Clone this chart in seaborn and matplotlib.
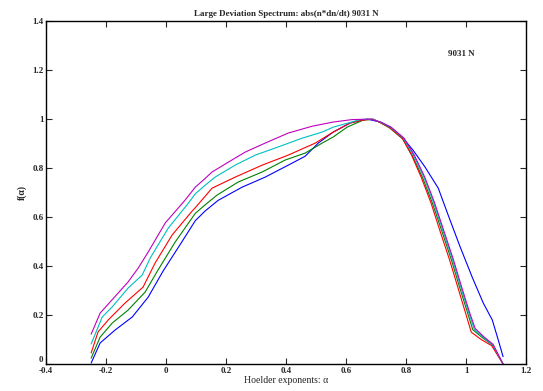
import numpy as np
import pandas as pd
import matplotlib
matplotlib.use("Agg")
import matplotlib.pyplot as plt
import seaborn as sns

# Hoelder exponent / spectrum values, one pair per curve
blue_a = [-0.25, -0.22, -0.17, -0.113, -0.06, -0.01, 0.053, 0.097, 0.13, 0.173, 0.253, 0.33, 0.407,
          0.463, 0.507, 0.557, 0.613, 0.67, 0.713, 0.747, 0.79, 0.823, 0.863, 0.907, 0.94, 0.98,
          1.02, 1.057, 1.087, 1.107, 1.123]
blue_f = [0.004, 0.086, 0.139, 0.192, 0.273, 0.38, 0.5, 0.585, 0.625, 0.668, 0.722, 0.763, 0.812,
          0.848, 0.902, 0.947, 0.984, 1.0, 0.988, 0.967, 0.922, 0.873, 0.804, 0.718, 0.608, 0.478,
          0.355, 0.249, 0.18, 0.098, 0.03]

green_a = [-0.25, -0.22, -0.18, -0.127, -0.07, -0.027, 0.03, 0.097, 0.13, 0.17, 0.24, 0.32, 0.397,
           0.463, 0.52, 0.557, 0.603, 0.657, 0.69, 0.713, 0.746, 0.789, 0.821, 0.855, 0.888, 0.921,
           0.951, 0.978, 1.005, 1.022, 1.056, 1.087, 1.123]
green_f = [0.024, 0.11, 0.167, 0.22, 0.294, 0.384, 0.498, 0.615, 0.65, 0.69, 0.743, 0.784, 0.833,
           0.861, 0.902, 0.927, 0.967, 0.996, 0.999, 0.986, 0.963, 0.918, 0.85, 0.76, 0.655, 0.535,
           0.424, 0.314, 0.208, 0.14, 0.106, 0.078, 0.0]

red_a = [-0.25, -0.227, -0.193, -0.137, -0.077, -0.037, 0.02, 0.087, 0.097, 0.153, 0.23, 0.32, 0.407,
         0.497, 0.557, 0.613, 0.657, 0.69, 0.71, 0.743, 0.787, 0.818, 0.85, 0.883, 0.915, 0.945,
         0.972, 0.998, 1.017, 1.05, 1.085, 1.123]
red_f = [0.045, 0.131, 0.18, 0.249, 0.314, 0.412, 0.527, 0.625, 0.638, 0.718, 0.763, 0.812, 0.853,
         0.902, 0.947, 0.984, 0.996, 1.0, 0.988, 0.967, 0.922, 0.853, 0.763, 0.657, 0.535, 0.424,
         0.314, 0.208, 0.13, 0.1, 0.075, 0.0]

cyan_a = [-0.25, -0.213, -0.18, -0.127, -0.08, -0.053, 0.007, 0.073, 0.097, 0.13, 0.163, 0.23, 0.297,
          0.373, 0.453, 0.52, 0.557, 0.647, 0.685, 0.714, 0.748, 0.791, 0.824, 0.859, 0.892, 0.925,
          0.955, 0.982, 1.009, 1.027, 1.058, 1.088, 1.123]
cyan_f = [0.082, 0.192, 0.233, 0.31, 0.363, 0.433, 0.555, 0.655, 0.695, 0.73, 0.763, 0.812, 0.853,
          0.886, 0.922, 0.947, 0.967, 0.998, 1.0, 0.988, 0.967, 0.922, 0.853, 0.763, 0.657, 0.535,
          0.424, 0.314, 0.208, 0.142, 0.108, 0.079, 0.0]

magenta_a = [-0.25, -0.22, -0.187, -0.127, -0.093, -0.06, -0.003, 0.063, 0.097, 0.123, 0.153, 0.207,
             0.263, 0.33, 0.407, 0.487, 0.557, 0.62, 0.68, 0.715, 0.75, 0.793, 0.827, 0.862, 0.895,
             0.928, 0.958, 0.985, 1.012, 1.03, 1.06, 1.09, 1.123]
magenta_f = [0.122, 0.208, 0.253, 0.335, 0.392, 0.457, 0.576, 0.669, 0.722, 0.75, 0.784, 0.824,
             0.865, 0.902, 0.943, 0.971, 0.988, 0.998, 1.0, 0.988, 0.967, 0.922, 0.853, 0.763, 0.657,
             0.535, 0.424, 0.314, 0.208, 0.145, 0.11, 0.08, 0.0]

curves = {
    "b": (blue_a, blue_f),
    "g": (green_a, green_f),
    "r": (red_a, red_f),
    "c": (cyan_a, cyan_f),
    "m": (magenta_a, magenta_f),
}
colors = {"b": "#0000ff", "g": "#008000", "r": "#ff0000", "c": "#00bfbf", "m": "#bf00bf"}

xticks = [-0.4, -0.2, 0, 0.2, 0.4, 0.6, 0.8, 1, 1.2]
yticks = [0, 0.2, 0.4, 0.6, 0.8, 1, 1.2, 1.4]

rows = []
for name, (a, f) in curves.items():
    for i, (ai, fi) in enumerate(zip(a, f)):
        rows.append({"curve": name, "alpha": ai, "f": fi, "i": i})
df = pd.DataFrame(rows)

sns.set_style("ticks")
plt.rcParams["font.family"] = ["Liberation Serif", "DejaVu Serif"]
plt.rcParams["font.weight"] = "bold"

fig = plt.figure(figsize=(5.43, 3.91), dpi=100)
ax = fig.add_axes([0.085, 0.069, 0.884, 0.877])

sns.lineplot(data=df, x="alpha", y="f", hue="curve", palette=colors, sort=False,
             estimator=None, units="curve", linewidth=0.8, legend=False, ax=ax)

ax.set_xlim(-0.4, 1.2)
ax.set_ylim(0, 1.4)
ax.set_xticks(xticks)
ax.set_yticks(yticks)
ax.set_xticklabels(["-0.4", "-0.2", "0", "0.2", "0.4", "0.6", "0.8", "1", "1.2"])
ax.set_yticklabels(["0", "0.2", "0.4", "0.6", "0.8", "1", "1.2", "1.4"])
ax.tick_params(direction="in", top=True, right=True, length=4, width=0.8,
               labelsize=6.5, pad=2)
for lab in ax.get_xticklabels() + ax.get_yticklabels():
    lab.set_fontweight("bold")
# lift the y "0" a little so it sits above the "-0.4" like the reference
ax.get_yticklabels()[0].set_va("bottom")
for sp in ax.spines.values():
    sp.set_visible(True)
    sp.set_linewidth(1.0)
    sp.set_color("black")

ax.set_xlabel("Hoelder exponents: α", fontsize=7, labelpad=1)
ax.set_ylabel("f(α)", fontsize=7, labelpad=4, fontweight="bold")
ax.set_title("Large Deviation Spectrum: abs(n*dn/dt) 9031 N", fontsize=6.5, pad=4,
             fontweight="bold")
ax.text(0.94, 1.265, "9031 N", fontsize=6.5, ha="left", va="center", fontweight="bold")

fig.savefig("out.png", dpi=100)
